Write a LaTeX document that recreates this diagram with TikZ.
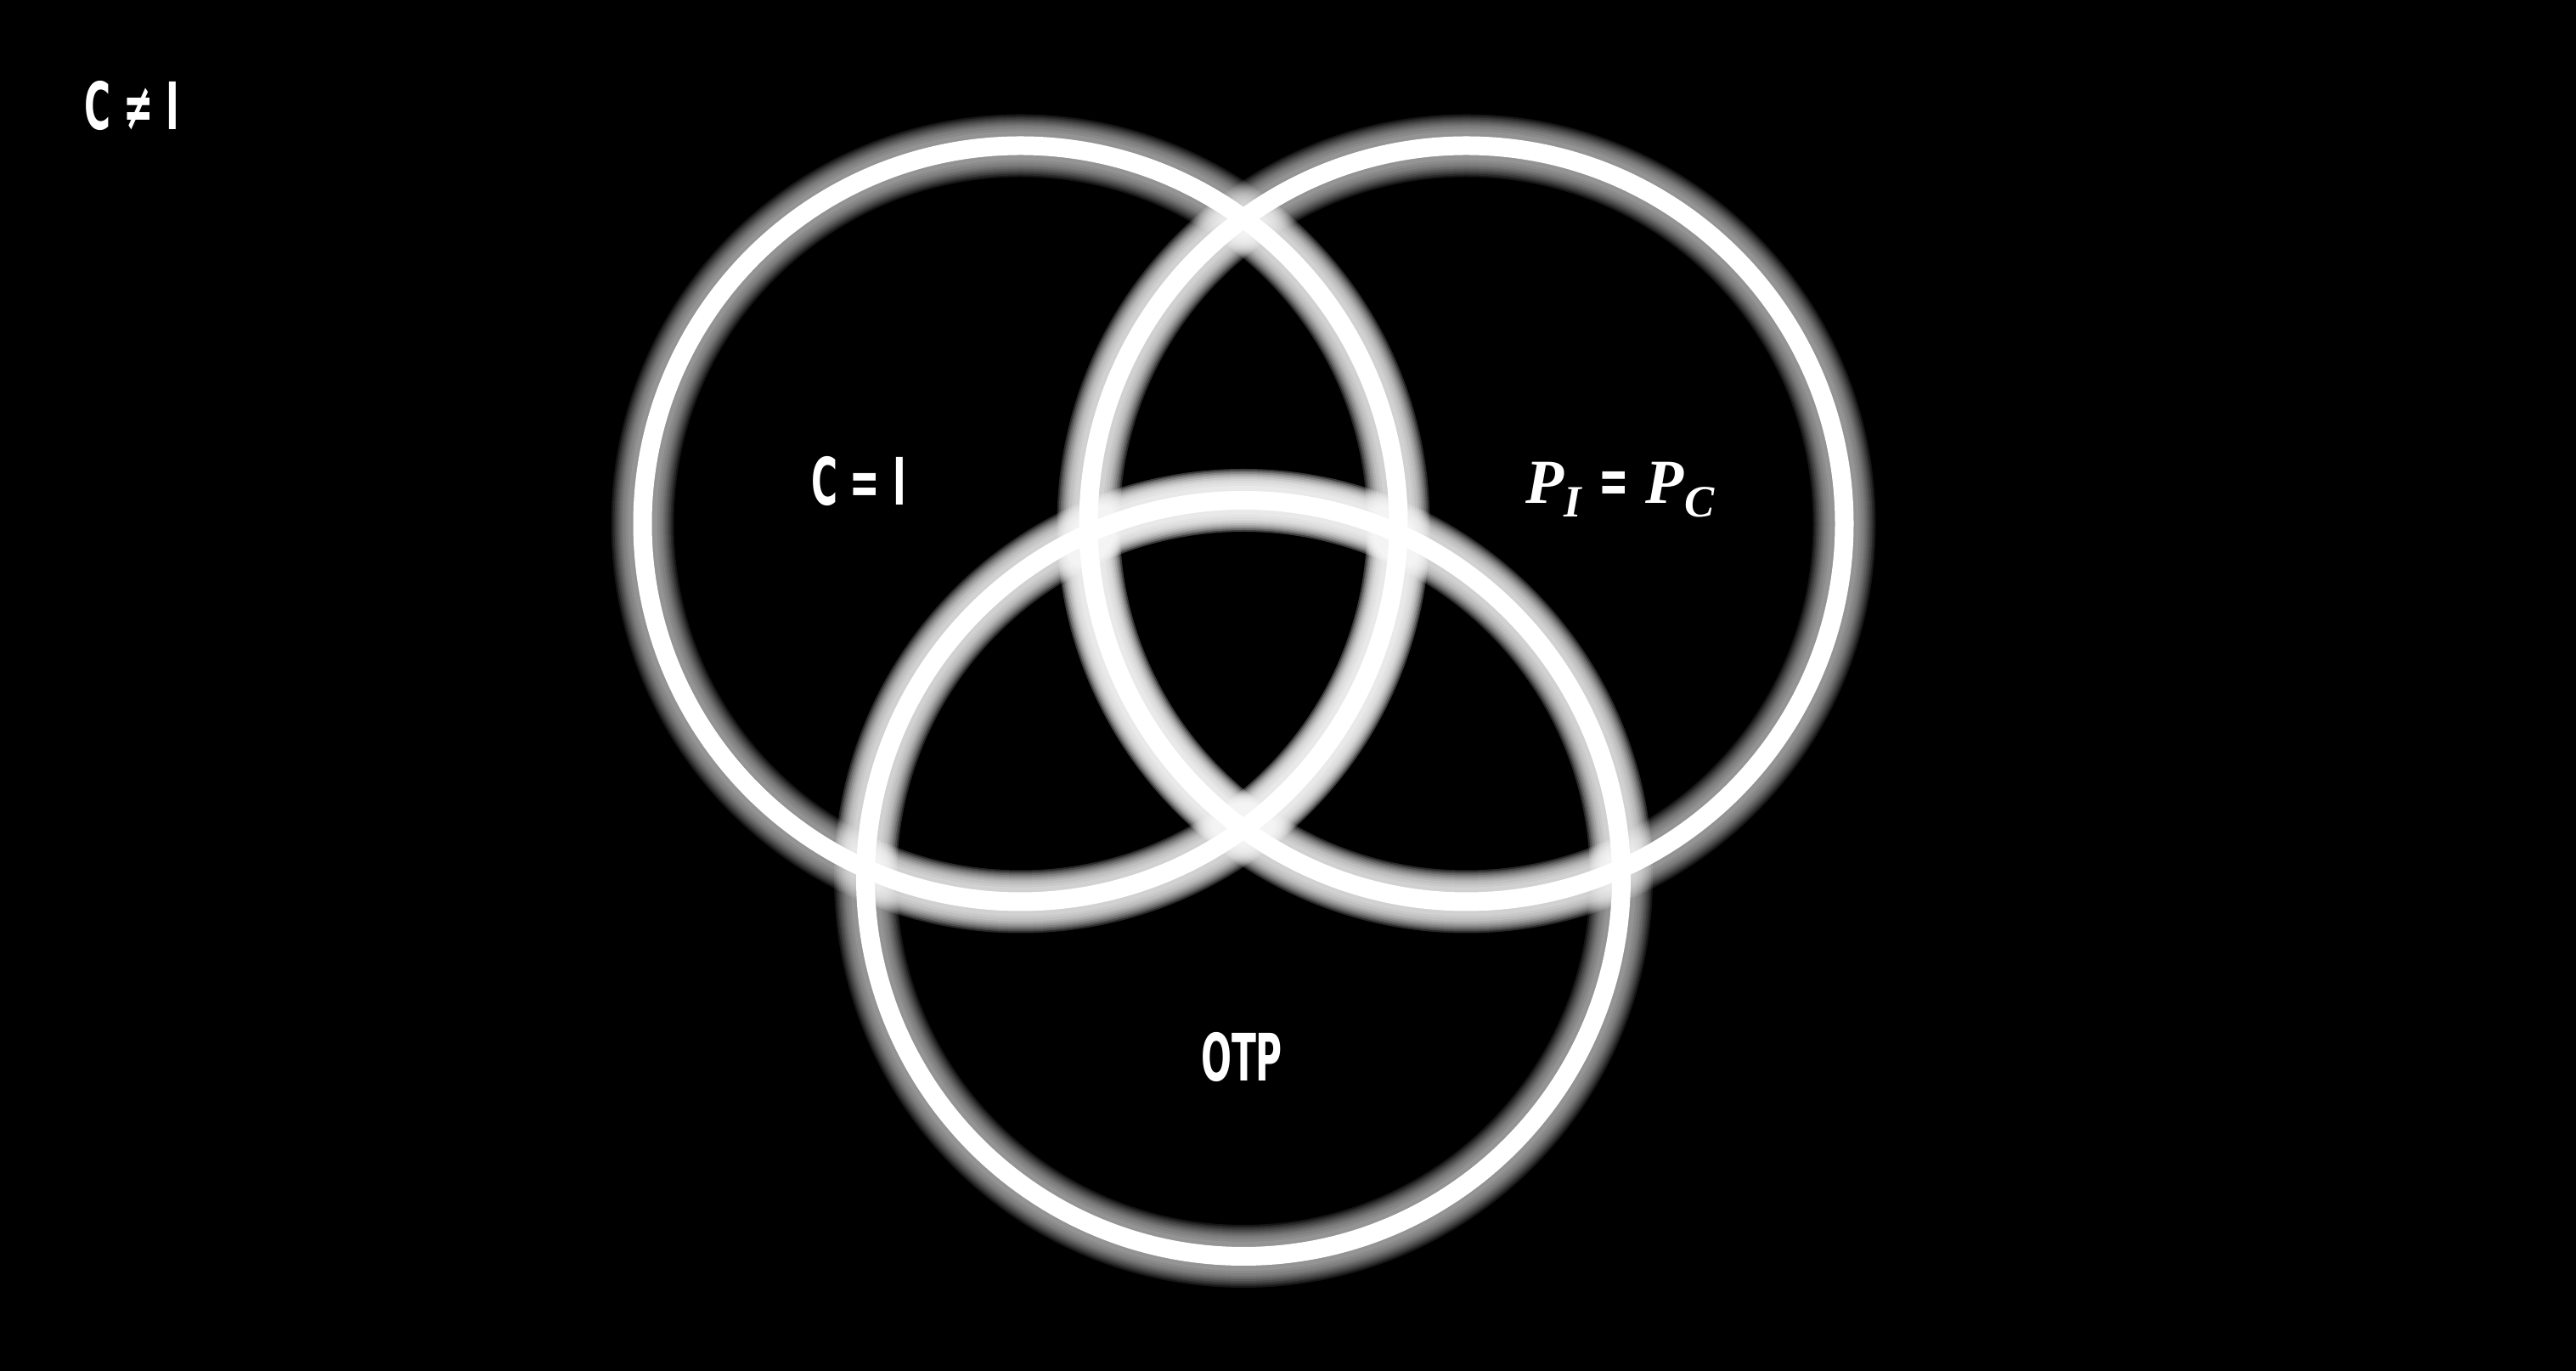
\documentclass[tikz,border=0pt]{standalone}
\usepackage{fontspec}
\newfontfamily\agency[FakeStretch=0.55]{DejaVu Sans}
\newfontfamily\tnr{Liberation Serif}
\newcommand\glowlayers[1]{%
  \foreach \e in {6,9,12,14,16,18,20,22,24,26}{%
    \pgfmathsetmacro\w{0.22+\e*0.02}%
    \draw[white, opacity=0.085, line width=\w cm] (#1) circle[radius=4.45cm];
  }%
}
\tikzset{
  ring/.style={circle, draw=white, line width=0.22cm, minimum size=8.9cm, inner sep=0pt},
  agencytext/.style={text=white, font=\agency\bfseries\fontsize{21.9}{24}\selectfont, inner sep=0pt, anchor=base},
  timestext/.style={text=white, inner sep=0pt, anchor=base}
}
\begin{document}
\begin{tikzpicture}
\fill[black] (0,0) rectangle (30.33,16.14);
\useasboundingbox (0,0) rectangle (30.33,16.14);
\coordinate (L) at (12.015,9.975);
\coordinate (R) at (17.265,9.975);
\coordinate (B) at (14.64,5.80);
% base glows
\glowlayers{L}
\glowlayers{R}
\glowlayers{B}
% boosted glow inside other circles
\begin{scope}\clip (R) circle[radius=4.45cm]; \glowlayers{L}\glowlayers{B}\end{scope}
\begin{scope}\clip (L) circle[radius=4.45cm]; \glowlayers{R}\glowlayers{B}\end{scope}
\begin{scope}\clip (B) circle[radius=4.45cm]; \glowlayers{L}\glowlayers{R}\end{scope}
% rings
\node[ring] (cL) at (L) {};
\node[ring] (cR) at (R) {};
\node[ring] (cB) at (B) {};
% texts
\node[agencytext] (ne) at (1.555,14.61) {C ≠ I};
\node[agencytext] (eq) at (10.11,10.19) {C = I};
\node[agencytext] (otp) at (14.62,3.41) {OTP};
\node[timestext] (pp) at (19.075,10.21) {{\tnr\bfseries\itshape\fontsize{21}{24}\selectfont P\raisebox{-4.3pt}{\fontsize{15}{16}\selectfont I}}\hspace{0.2cm}{\agency\bfseries\fontsize{21.9}{24}\selectfont =}\hspace{0.2cm}{\tnr\bfseries\itshape\fontsize{21}{24}\selectfont P\raisebox{-4.3pt}{\fontsize{15}{16}\selectfont C}}};
\end{tikzpicture}
\end{document}
